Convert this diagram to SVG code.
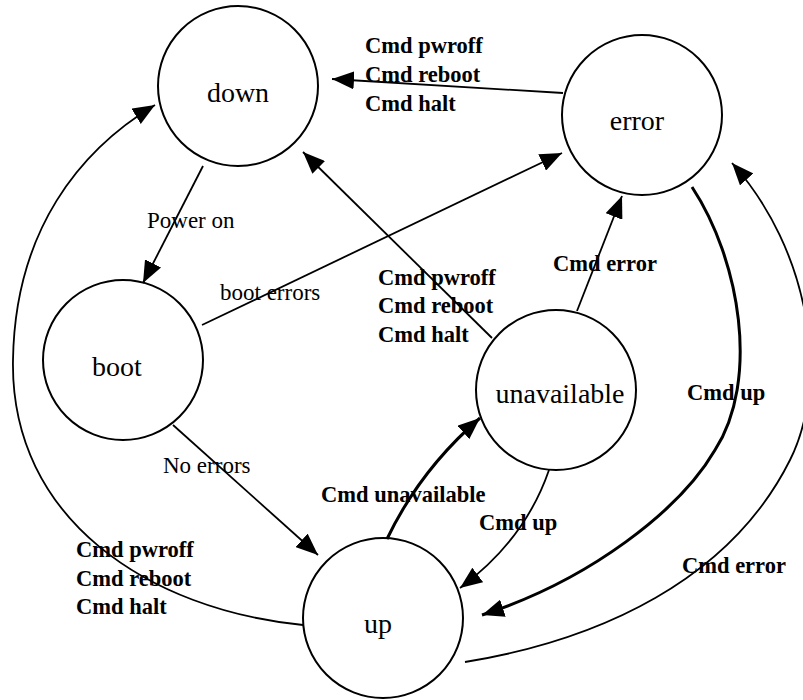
<svg xmlns="http://www.w3.org/2000/svg" width="803" height="700" viewBox="0 0 803 700">
<style>
.node{fill:#fff;stroke:#000;stroke-width:2}
.nt{font-family:"Liberation Serif","Times New Roman",serif;font-size:28px;fill:#000;text-anchor:middle}
.lb{font-family:"Liberation Serif","Times New Roman",serif;font-size:22.5px;fill:#000;font-weight:bold}
.lr{font-family:"Liberation Serif","Times New Roman",serif;font-size:23px;fill:#000}
.e{fill:none;stroke:#000;stroke-width:1.8;marker-end:url(#ah)}
.ek{fill:none;stroke:#000;stroke-width:3;marker-end:url(#ah)}
</style>
<defs>
<marker id="ah" markerUnits="userSpaceOnUse" markerWidth="22" markerHeight="18" refX="22" refY="9" orient="auto">
<path d="M0,0 L22,9 L0,18 z" fill="#000"/>
</marker>
</defs>
<g id="nodes">
<g id="down"><circle class="node" cx="238" cy="86" r="80"/><text class="nt" x="238" y="102">down</text></g>
<g id="error"><circle class="node" cx="642" cy="115" r="80"/><text class="nt" x="637" y="130">error</text></g>
<g id="boot"><circle class="node" cx="123" cy="360" r="80"/><text class="nt" x="117" y="376">boot</text></g>
<g id="unavailable"><circle class="node" cx="556" cy="390" r="80"/><text class="nt" x="560" y="403">unavailable</text></g>
<g id="up"><circle class="node" cx="383" cy="618" r="80"/><text class="nt" x="378" y="633">up</text></g>
</g>
<g id="connectors">
<path class="e" d="M563,93 L332,79"/>
<path class="e" d="M203,166 L143,283"/>
<path class="e" d="M202,325 L562,153"/>
<path class="e" d="M492,338 L303,152"/>
<path class="e" d="M577,311 L622,196"/>
<path class="e" d="M173,425 L318,555"/>
<path class="ek" d="M387,539 Q420,470 480,418"/>
<path class="e" d="M549,470 Q525,540 460,588"/>
<path class="ek" d="M692,187 C740,260 760,380 715,450 C680,510 590,580 482,615"/>
<path class="e" d="M465,662 C600,640 730,580 790,460 C830,380 810,250 732,163"/>
<path class="e" d="M303,625 C150,610 10,520 13,360 C15,230 80,150 155,105"/>
</g>
<g id="labels">
<text class="lb" x="365" y="53">Cmd pwroff</text>
<text class="lb" x="365" y="82">Cmd reboot</text>
<text class="lb" x="365" y="111">Cmd halt</text>
<text class="lr" x="147" y="228">Power on</text>
<text class="lr" x="220" y="300">boot errors</text>
<text class="lb" x="378" y="285">Cmd pwroff</text>
<text class="lb" x="378" y="313">Cmd reboot</text>
<text class="lb" x="378" y="342">Cmd halt</text>
<text class="lb" x="553" y="271">Cmd error</text>
<text class="lr" x="163" y="473">No errors</text>
<text class="lb" x="321" y="502">Cmd unavailable</text>
<text class="lb" x="479" y="530">Cmd up</text>
<text class="lb" x="687" y="400">Cmd up</text>
<text class="lb" x="682" y="573">Cmd error</text>
<text class="lb" x="76" y="557">Cmd pwroff</text>
<text class="lb" x="76" y="586">Cmd reboot</text>
<text class="lb" x="76" y="614">Cmd halt</text>
</g>
</svg>
